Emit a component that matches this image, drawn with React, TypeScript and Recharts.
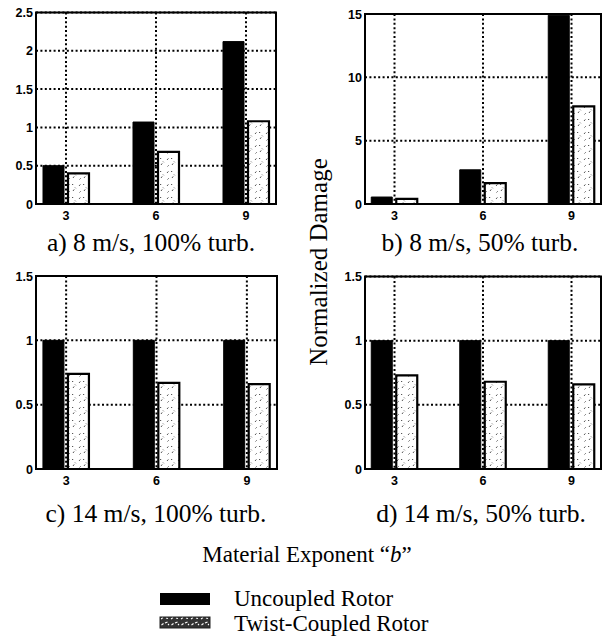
import React from 'react';
import { BarChart, Bar, XAxis, YAxis, CartesianGrid, ReferenceArea } from 'recharts';

const materialExponents = [3, 6, 9];
const uncoupledA = [0.5, 1.07, 2.12];
const twistA = [0.4, 0.68, 1.08];
const uncoupledB = [0.55, 2.7, 14.9];
const twistB = [0.4, 1.65, 7.7];
const uncoupledC = [1, 1, 1];
const twistC = [0.74, 0.67, 0.66];
const uncoupledD = [1, 1, 1];
const twistD = [0.73, 0.68, 0.66];
const yTicksA = [0, 0.5, 1, 1.5, 2, 2.5];
const yTicksB = [0, 5, 10, 15];
const yTicksCD = [0, 0.5, 1, 1.5];
const captionA = 'a) 8 m/s, 100% turb.';
const captionB = 'b) 8 m/s, 50% turb.';
const captionC = 'c) 14 m/s, 100% turb.';
const captionD = 'd) 14 m/s, 50% turb.';
const xLabelMain = 'Material Exponent ';
const xLabelVar = 'b';
const yLabel = 'Normalized Damage';
const legendLabels = ['Uncoupled Rotor', 'Twist-Coupled Rotor'];

const SERIF = '"Liberation Serif", "Times New Roman", serif';
const SANS = '"Liberation Sans", Arial, sans-serif';

function XTick(props: any) {
  const { x, y, payload } = props;
  return (
    <text x={x} y={y + 13} textAnchor="middle" fontFamily={SANS} fontSize={12.5} fontWeight="bold" fill="#000">
      {payload.value}
    </text>
  );
}

function YTick(props: any) {
  const { x, y, payload } = props;
  return (
    <text x={x} y={y + 4.5} textAnchor="end" fontFamily={SANS} fontSize={12.5} fontWeight="bold" fill="#000">
      {payload.value}
    </text>
  );
}

type PanelProps = {
  id: string;
  left: number;
  top: number;
  width: number;
  height: number;
  marginTop: number;
  marginRight: number;
  uncoupled: number[];
  twist: number[];
  yTicks: number[];
};

function Panel({ id, left, top, width, height, marginTop, marginRight, uncoupled, twist, yTicks }: PanelProps) {
  const data = materialExponents.map((b, i) => ({ b, uncoupled: uncoupled[i], twist: twist[i] }));
  const yMax = yTicks[yTicks.length - 1];
  return (
    <div style={{ position: 'absolute', left, top }}>
      <BarChart
        width={width}
        height={height}
        data={data}
        margin={{ top: marginTop, right: marginRight, bottom: 0, left: 0 }}
        barGap={4}
      >
        <defs>
          <pattern id={`speck-${id}`} x="0" y="0" width="11" height="13" patternUnits="userSpaceOnUse">
            <rect x="0" y="0" width="11" height="13" fill="#fff" />
            <path
              d="M2 4 l1.4 -1.6 M7 9 l1.2 -1.6 M6 2.5 l1.2 0 M2.5 10.5 l1.2 -1.2 M9 5.5 l0.8 0.8"
              stroke="#444"
              strokeWidth={0.9}
            />
          </pattern>
        </defs>
        <CartesianGrid stroke="#000" strokeWidth={2} strokeDasharray="2 2.4" />
        <XAxis
          dataKey="b"
          type="number"
          domain={[2, 10]}
          ticks={materialExponents}
          interval={0}
          allowDataOverflow
          tickLine={false}
          tickSize={0}
          tickMargin={3}
          axisLine={{ stroke: '#000', strokeWidth: 2 }}
          tick={<XTick />}
          height={21}
        />
        <YAxis
          type="number"
          domain={[0, yMax]}
          ticks={yTicks}
          interval={0}
          allowDataOverflow
          tickLine={false}
          tickSize={0}
          tickMargin={3}
          axisLine={{ stroke: '#000', strokeWidth: 2 }}
          tick={<YTick />}
          width={36}
        />
        <Bar dataKey="uncoupled" fill="#000" stroke="#000" strokeWidth={1} barSize={21} isAnimationActive={false} />
        <Bar dataKey="twist" fill={`url(#speck-${id})`} stroke="#000" strokeWidth={2.2} barSize={21} isAnimationActive={false} />
        <ReferenceArea x1={2} x2={10} y1={0} y2={yMax} fill="none" stroke="#000" strokeWidth={2} ifOverflow="visible" />
      </BarChart>
    </div>
  );
}

export default function App() {
  return (
    <div style={{ position: 'absolute', left: 0, top: 0, width: 603, height: 639, background: '#fff', overflow: 'hidden' }}>
      <Panel id="a" left={0} top={0} width={290} height={225} marginTop={12.5} marginRight={14} uncoupled={uncoupledA} twist={twistA} yTicks={yTicksA} />
      <Panel id="b" left={329} top={0} width={274} height={225} marginTop={14} marginRight={2} uncoupled={uncoupledB} twist={twistB} yTicks={yTicksB} />
      <Panel id="c" left={0} top={262} width={290} height={228} marginTop={14} marginRight={13} uncoupled={uncoupledC} twist={twistC} yTicks={yTicksCD} />
      <Panel id="d" left={329} top={262} width={274} height={228} marginTop={14.5} marginRight={2} uncoupled={uncoupledD} twist={twistD} yTicks={yTicksCD} />
      <svg width={603} height={639} style={{ position: 'absolute', left: 0, top: 0, pointerEvents: 'none' }}>
        <defs>
          <pattern id="legend-speck" x="0" y="0" width="10" height="11" patternUnits="userSpaceOnUse">
            <rect x="0" y="0" width="10" height="11" fill="#333" />
            <path d="M1 3 l2 -1.5 M5 7 l2.5 -1 M6 2 l2 0.5 M1.5 9 l2 -1.5 M8 9 l1 -1" stroke="#fff" strokeWidth={1.1} />
          </pattern>
        </defs>
        <g fontFamily={SERIF} fontSize={25.5} fill="#000" textAnchor="middle">
          <text x={151} y={251}>{captionA}</text>
          <text x={480} y={251}>{captionB}</text>
          <text x={156} y={522}>{captionC}</text>
          <text x={481} y={522}>{captionD}</text>
          <text x={318} y={262} fontSize={25} transform="rotate(-90 318 262)" dominantBaseline="central">{yLabel}</text>
          <text x={307} y={562} fontSize={23}>
            {xLabelMain}“<tspan fontStyle="italic">{xLabelVar}</tspan>”
          </text>
        </g>
        <rect x={160} y={593} width={50} height={12} fill="#000" />
        <rect x={160} y={617} width={50} height={11} fill="url(#legend-speck)" stroke="#222" strokeWidth={1} />
        <g fontFamily={SERIF} fontSize={23} fill="#000">
          <text x={234} y={606}>{legendLabels[0]}</text>
          <text x={234} y={631}>{legendLabels[1]}</text>
        </g>
      </svg>
    </div>
  );
}
